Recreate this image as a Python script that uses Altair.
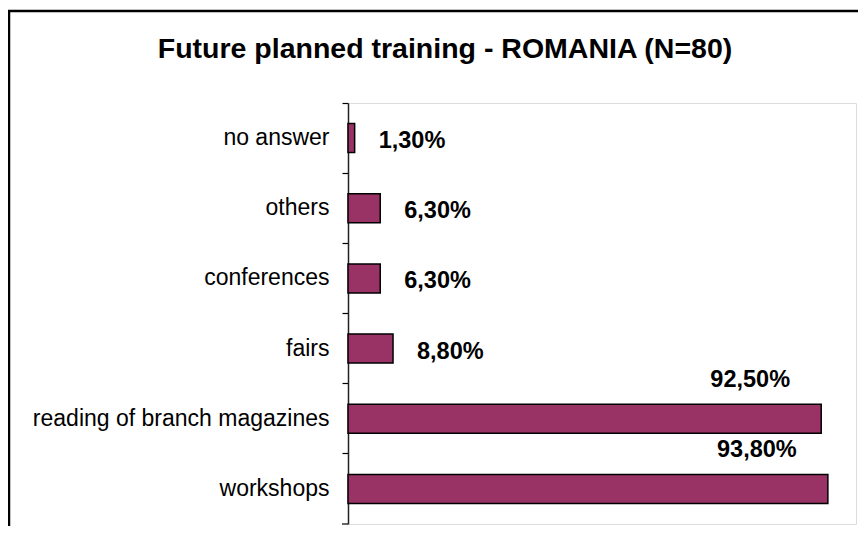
import altair as alt
import pandas as pd

title_text = "Future planned training - ROMANIA (N=80)"
categories = ["no answer", "others", "conferences", "fairs",
              "reading of branch magazines", "workshops"]
values = [1.3, 6.3, 6.3, 8.8, 92.5, 93.8]
labels = ["1,30%", "6,30%", "6,30%", "8,80%", "92,50%", "93,80%"]

df = pd.DataFrame({"cat": categories, "value": values, "label": labels})
one = pd.DataFrame({"t": [title_text]})

FONT = "Liberation Sans"
W = 508
H = 421

y_enc = alt.Y("cat:N", sort=categories,
              scale=alt.Scale(paddingInner=0, paddingOuter=0),
              axis=alt.Axis(title=None, labelFont=FONT, labelFontSize=23,
                            labelColor="black", labelPadding=13, tickSize=6,
                            tickColor="black", tickWidth=1.2,
                            domainColor="#222222", domainWidth=1.5,
                            bandPosition=0, labelLimit=400))
x_enc = alt.X("value:Q", scale=alt.Scale(domain=[0, 99.3]), axis=None)

bars = alt.Chart(df).mark_bar(size=29, color="#993366", stroke="black",
                              strokeWidth=1.5).encode(x=x_enc, y=y_enc)

small = alt.Chart(df).transform_filter("datum.value < 50").mark_text(
    align="left", baseline="middle", dx=24, dy=3, fontSize=23.5,
    fontWeight="bold", font=FONT, color="black"
).encode(x=x_enc, y=y_enc, text="label:N")

big = alt.Chart(df).transform_filter("datum.value >= 50").mark_text(
    align="center", baseline="middle", dx=-71, dy=-39, fontSize=23.5,
    fontWeight="bold", font=FONT, color="black"
).encode(x=x_enc, y=y_enc, text="label:N")

bottom_tick = alt.Chart(one).mark_rule(color="black", strokeWidth=1.2).encode(
    x=alt.value(-6), x2=alt.value(0), y=alt.value(H))

frame = alt.Chart(one).mark_rect(filled=False, stroke="black", strokeWidth=2.5).encode(
    x=alt.value(-339), x2=alt.value(700), y=alt.value(-92), y2=alt.value(600))

title = alt.Chart(one).mark_text(
    align="center", baseline="alphabetic", fontSize=28.5, fontWeight="bold",
    font=FONT, color="black"
).encode(x=alt.value(97), y=alt.value(-45), text="t:N")

chart = alt.layer(frame, bars, small, big, bottom_tick, title).properties(
    width=W, height=H,
    autosize=alt.AutoSizeParams(type="none"),
    padding={"left": 340, "top": 95, "right": 2, "bottom": 2},
).configure_view(stroke="#808080", strokeWidth=2).configure(background="white")

chart.save("out.html", embed_options={"renderer": "svg", "actions": False})
